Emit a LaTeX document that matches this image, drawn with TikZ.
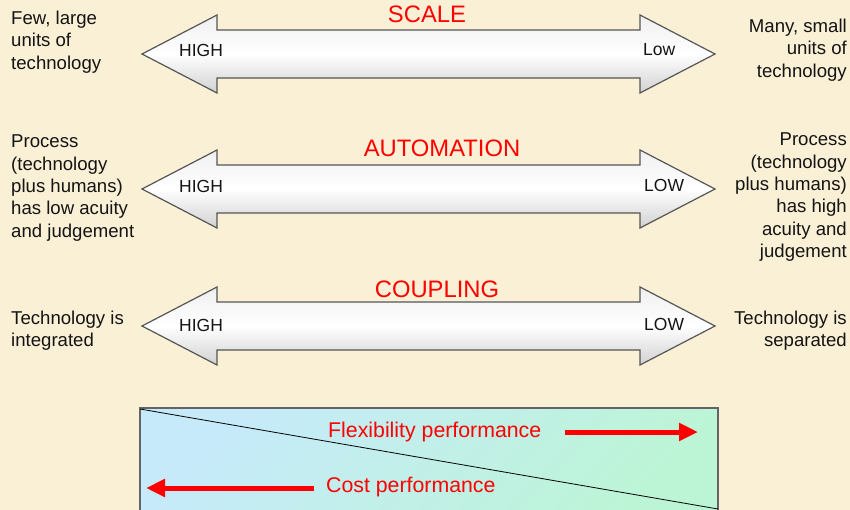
\documentclass[tikz,border=0pt]{standalone}
\usepackage{fontspec}
\setmainfont{Liberation Sans}
\usetikzlibrary{arrows.meta}
\definecolor{bg}{RGB}{250,240,214}
\definecolor{arrowline}{RGB}{85,85,85}
\definecolor{txt}{RGB}{20,20,20}
\definecolor{boxblue}{RGB}{198,234,250}
\definecolor{boxgreen}{RGB}{188,245,214}
\definecolor{boxline}{RGB}{100,100,100}
\tikzset{
 side/.style={inner sep=0, font=\fontsize{18.6}{22.3}\selectfont, text=txt},
 lside/.style={side, anchor=north west, align=left},
 rside/.style={side, anchor=north east, align=right},
 titletext/.style={inner sep=0, anchor=base, text=red, font=\fontsize{23.8}{27}\selectfont},
 lvl/.style={inner sep=0, anchor=base west, text=txt, font=\fontsize{17.5}{20}\selectfont},
 bigarrow/.style={draw=arrowline, line width=1.2pt, line join=miter, top color=gray!12, bottom color=gray!36, middle color=white},
 perf/.style={inner sep=0, anchor=base west, text=red, font=\fontsize{21.3}{25}\selectfont},
 redarrow/.style={red, line width=5pt, -{Triangle[length=19pt,width=17pt]}},
}
\newcommand\dblarrow[1]{\path[bigarrow] (142,#1) -- (217,#1-39) -- (217,#1-24) -- (640,#1-24) -- (640,#1-39) -- (715,#1) -- (640,#1+39) -- (640,#1+24) -- (217,#1+24) -- (217,#1+39) -- cycle;}
\begin{document}
\begin{tikzpicture}[x=1pt,y=-1pt]
\fill[bg] (0,0) rectangle (850,510);
\useasboundingbox (0,0) rectangle (850,510);

% double arrows
\dblarrow{54}
\dblarrow{189}
\dblarrow{326}

% titles
\node[titletext] (scale) at (427,23) {SCALE};
\node[titletext] (automation) at (442,157) {AUTOMATION};
\node[titletext] (coupling) at (437,297) {COUPLING};

% arrow labels
\node[lvl] (high1) at (179,57) {HIGH};
\node[lvl] (low1) at (643,56) {Low};
\node[lvl] (high2) at (179,193) {HIGH};
\node[lvl] (low2) at (644,192) {LOW};
\node[lvl] (high3) at (179,331) {HIGH};
\node[lvl] (low3) at (644,330) {LOW};

% side texts
\node[lside] (fewlarge) at (11,11) {Few, large\\units of\\technology};
\node[rside] (manysmall) at (847,19) {Many, small\\units of\\technology};
\node[lside] (proclow) at (11,135) {Process\\(technology\\plus humans)\\has low acuity\\and judgement};
\node[rside] (prochigh) at (847,133) {Process\\(technology\\plus humans)\\has high\\acuity and\\judgement};
\node[lside] (integrated) at (11,311) {Technology is\\integrated};
\node[rside] (separated) at (847,311) {Technology is\\separated};

% bottom box
\path[top color=boxblue, bottom color=boxgreen, shading angle=45] (140,408) rectangle (718,520);
\draw[boxline, line width=1.5pt] (140,520) -- (140,408) -- (718,408) -- (718,520);
\draw[black, line width=0.8pt] (140,409) -- (718,509);

\node[perf] (flex) at (328,437) {Flexibility performance};
\node[perf] (cost) at (326,492) {Cost performance};
\coordinate (flexstart) at (565,432);
\coordinate (flexend) at (698,432);
\coordinate (coststart) at (314,488);
\coordinate (costend) at (146,488);
\draw[redarrow] (flexstart) -- (flexend);
\draw[redarrow] (coststart) -- (costend);
\end{tikzpicture}
\end{document}
